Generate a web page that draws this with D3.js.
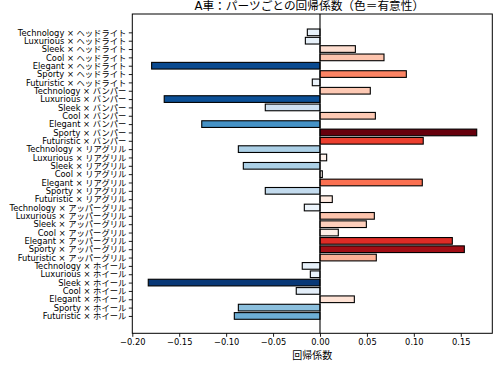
<!DOCTYPE html>
<html>
<head>
<meta charset="utf-8">
<script src="https://cdn.jsdelivr.net/npm/d3@7"></script>
<style>
html,body{margin:0;padding:0;background:#fff;}
svg{display:block;}
text{font-family:"DejaVu Sans","Noto Sans CJK JP",sans-serif;fill:#000;}
</style>
</head>
<body>
<svg id="chart" width="498" height="368"></svg>
<script>
const title = "A車：パーツごとの回帰係数（色＝有意性）";
const xLabel = "回帰係数";
const parts = ["ヘッドライト", "バンパー", "リアグリル", "アッパーグリル", "ホイール"];
const adjectives = ["Technology", "Luxurious", "Sleek", "Cool", "Elegant", "Sporty", "Futuristic"];
const categories = parts.flatMap(p => adjectives.map(a => `${a} × ${p}`));
const coefficients = [
  -0.0135, -0.0156, 0.0377, 0.0682, -0.1794, 0.0920, -0.0082,
  0.0536, -0.1660, -0.0583, 0.0590, -0.1260, 0.1670, 0.1100,
  -0.0870, 0.0071, -0.0817, 0.0025, 0.1090, -0.0583, 0.0131,
  -0.0167, 0.0579, 0.0494, 0.0195, 0.1410, 0.1538, 0.0600,
  -0.0189, -0.0103, -0.1830, -0.0253, 0.0366, -0.0870, -0.0913
];
// significance strength (0..1), drawn with Reds for positive, Blues for negative
const significance = [
  0.08, 0.08, 0.12, 0.22, 0.90, 0.42, 0.06,
  0.20, 0.88, 0.20, 0.20, 0.62, 1.00, 0.62,
  0.33, 0.02, 0.33, 0.00, 0.48, 0.25, 0.06,
  0.05, 0.22, 0.18, 0.04, 0.68, 0.875, 0.28,
  0.08, 0.07, 0.97, 0.10, 0.10, 0.42, 0.50
];
const xTicks = [-0.20, -0.15, -0.10, -0.05, 0.00, 0.05, 0.10, 0.15];

const svg = d3.select("#chart");
const L = 132.3, R = 492.3, T = 14, B = 333.3;

const x = d3.scaleLinear().domain([-0.2, 0.1836]).range([L, R]);
const y = d3.scaleLinear().domain([-2.2, 36.08]).range([T, B]);
const barH = 0.8 * (y(1) - y(0));

const color = (v, s) => v >= 0 ? d3.interpolateReds(s) : d3.interpolateBlues(s);

const data = categories.map((c, i) => ({c, i, v: coefficients[i], s: significance[i]}));

svg.append("g").selectAll("rect").data(data).join("rect")
  .attr("x", d => Math.min(x(0), x(d.v)))
  .attr("y", d => y(d.i) - barH / 2)
  .attr("width", d => Math.abs(x(d.v) - x(0)))
  .attr("height", barH)
  .attr("fill", d => color(d.v, d.s))
  .attr("stroke", "#000")
  .attr("stroke-width", 1.1);

// zero line
svg.append("line")
  .attr("x1", x(0)).attr("x2", x(0)).attr("y1", T).attr("y2", B)
  .attr("stroke", "#000").attr("stroke-width", 1.1);

// frame
svg.append("rect").attr("x", L).attr("y", T).attr("width", R - L).attr("height", B - T)
  .attr("fill", "none").attr("stroke", "#000").attr("stroke-width", 1);

// x axis
const fmt = v => (v < 0 ? "\u2212" : "") + Math.abs(v).toFixed(2);
const xAxis = d3.axisBottom(x).tickValues(xTicks).tickFormat(fmt).tickSize(3.5).tickPadding(2);
const gx = svg.append("g").attr("transform", `translate(0,${B})`).call(xAxis);
gx.select(".domain").remove();
gx.selectAll("line").attr("stroke", "#000").attr("stroke-width", 0.9);
gx.selectAll("text").attr("font-size", "8.3px").attr("font-family", '"DejaVu Sans",sans-serif');

// y axis
const yAxis = d3.axisLeft(y).tickValues(d3.range(categories.length))
  .tickFormat(i => categories[i]).tickSize(3.5).tickPadding(2.5);
const gy = svg.append("g").attr("transform", `translate(${L},0)`).call(yAxis);
gy.select(".domain").remove();
gy.selectAll("line").attr("stroke", "#000").attr("stroke-width", 0.9);
gy.selectAll("text").attr("font-size", "8.3px").attr("font-family", '"DejaVu Sans","Noto Sans CJK JP",sans-serif');

// title & label
svg.append("text").attr("x", (L + R) / 2 - 3).attr("y", 10)
  .attr("text-anchor", "middle").attr("font-size", "11.7px")
  .attr("font-family", '"Noto Sans CJK JP",sans-serif').text(title);
svg.append("text").attr("x", (L + R) / 2).attr("y", 359)
  .attr("text-anchor", "middle").attr("font-size", "10px")
  .attr("font-family", '"Noto Sans CJK JP",sans-serif').text(xLabel);
</script>
</body>
</html>
